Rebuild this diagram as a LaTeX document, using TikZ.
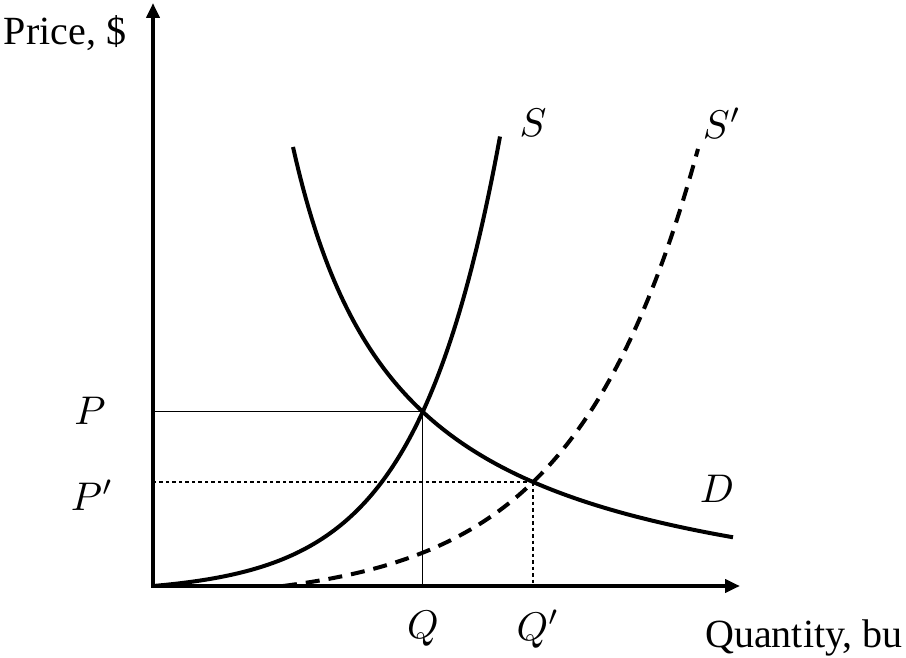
\documentclass[tikz,border=0pt]{standalone}
\usepackage{graphicx}
\usepackage{fontspec}
\setmainfont{Liberation Serif}
\usetikzlibrary{arrows.meta,intersections}
\newcommand{\biglbl}[1]{\scalebox{4}{\fontsize{10}{12}\selectfont$#1$}}
\begin{document}
\begin{tikzpicture}[x=1pt,y=-1pt,
  axisline/.style={line width=4pt,-{Triangle[length=15pt,width=13pt]}},
  curve/.style={line width=4pt},
  dashcurve/.style={line width=4pt,dash pattern=on 14pt off 9pt},
  guide/.style={line width=1.2pt},
  guidedash/.style={line width=1.2pt,dash pattern=on 3.5pt off 3pt},
  lbl/.style={font=\fontsize{40}{48}\selectfont,inner sep=0pt}]
\useasboundingbox (0,0) rectangle (906,658);
\coordinate (O) at (153,586);
\coordinate (ytip) at (153,3);
\coordinate (xtip) at (740,586);
% curves
\draw[curve,name path=S,domain=153:500,samples=120]
  plot (\x,{586-7.23*(exp(0.01195*(\x-153))-1)});
\draw[dashcurve,name path=Sp,domain=283:698,samples=140]
  plot (\x,{586-16.0*(exp(0.00805*(\x-283))-1)});
\draw[curve,name path=D,domain=293:733,samples=140]
  plot (\x,{586-(-47.7+529.06/((\x-184.3)/100))});
\path[name intersections={of=S and D,by=E1}];
\path[name intersections={of=Sp and D,by=E2}];
% guides
\draw[guide] (E1) -- (E1 -| O);
\draw[guide] (E1) -- (E1 |- O);
\draw[guidedash] (E2) -- (E2 -| O);
\draw[guidedash] (E2) -- (E2 |- O);
% axes
\draw[axisline] (O) -- (ytip);
\draw[axisline] ([xshift=-2pt]O) -- (xtip);
% labels
\node[lbl,anchor=base] (ylab) at (65,45) {Price, \$};
\node[lbl,anchor=base] (xlab) at (804,647) {Quantity, bu};
\node[lbl] (Pl) at (90,411) {\biglbl{P}};
\node[lbl] (Ppl) at (92,495) {\biglbl{P'}};
\node[lbl] (Ql) at (423,629) {\biglbl{Q}};
\node[lbl] (Qpl) at (538,629) {\biglbl{Q'}};
\node[lbl] (Sl) at (533,123) {\biglbl{S}};
\node[lbl] (Spl) at (722,123) {\biglbl{S'}};
\node[lbl] (Dl) at (717,489) {\biglbl{D}};
\end{tikzpicture}
\end{document}
